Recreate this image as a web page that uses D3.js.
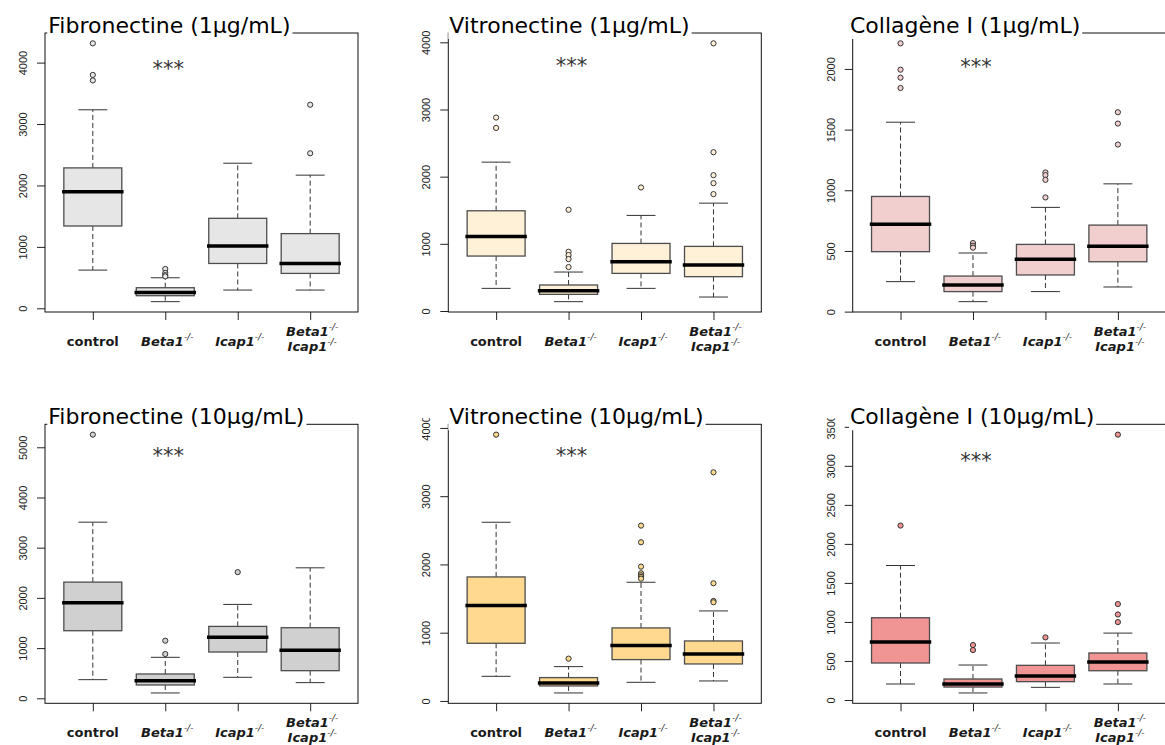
<!DOCTYPE html>
<html>
<head>
<meta charset="utf-8">
<script src="https://cdn.jsdelivr.net/npm/d3@7"></script>
<style>
body{margin:0;background:#fff;}
</style>
</head>
<body>
<script>
// groups on the x axis
var groups = ["control","Beta1","Icap1","Beta1Icap1"];
var labelLines = [["control"],["Beta1"],["Icap1"],["Beta1","Icap1"]];

var titles = ["Fibronectine (1µg/mL)","Vitronectine (1µg/mL)","Collagène I (1µg/mL)",
              "Fibronectine (10µg/mL)","Vitronectine (10µg/mL)","Collagène I (10µg/mL)"];

// box stats per group: [lower whisker, q1, median, q3, upper whisker]
var fibro1Stats = [[622,1340,1897,2286,3232],[108,205,259,335,497],[297,730,1016,1465,2362],[297,568,730,1216,2168]];
var fibro1Out = [[4314,3800,3710],[640,575,540,520],[],[3314,2524]];

var vitro1Stats = [[337,818,1110,1492,2216],[139,248,302,387,580],[337,560,734,1006,1423],[208,511,684,962,1606]];
var vitro1Out = [[2880,2726],[1507,882,833,773,654],[1839],[3985,2364,2022,1903,1740]];

var coll1Stats = [[247,494,721,949,1561],[82,165,219,293,483],[165,302,431,554,859],[203,411,538,713,1053]];
var coll1Out = [[2211,1994,1928,1843],[565,543,527],[1147,1125,1086,941],[1643,1550,1377]];

var fibro10Stats = [[371,1346,1903,2314,3508],[106,265,351,484,816],[418,922,1214,1432,1870],[312,550,955,1406,2599]];
var fibro10Out = [[5252],[1147,882],[2513],[]];

var vitro10Stats = [[361,845,1397,1817,2618],[117,220,264,342,503],[273,606,811,1070,1739],[293,542,689,879,1319]];
var vitro10Out = [[3902],[620],[2569,2325,1968,1871,1841,1817,1792],[3350,1724,1465,1446]];

var coll10Stats = [[205,474,742,1054,1723],[90,166,205,269,448],[162,235,307,444,730],[205,375,486,602,857]];
var coll10Out = [[2235],[704,640],[802],[3400,1229,1096,998]];

// y tick labels
var ticks1000to4000 = [0,1000,2000,3000,4000];
var ticksColl1 = [0,500,1000,1500,2000];
var ticksFibro10 = [0,1000,2000,3000,4000,5000];
var ticksColl10 = [0,500,1000,1500,2000,2500,3000,3500];

// where the *** sits (value units)
var stars = [3973,3727,2054,4920,3658,3123];

var fills = ["#e6e6e6","#fff0d8","#f2cfcf","#d0d0d0","#fed98f","#f19494"];

var panels = [
  {title:titles[0], stats:fibro1Stats, out:fibro1Out, ticks:ticks1000to4000, star:stars[0], fill:fills[0]},
  {title:titles[1], stats:vitro1Stats, out:vitro1Out, ticks:ticks1000to4000, star:stars[1], fill:fills[1]},
  {title:titles[2], stats:coll1Stats, out:coll1Out, ticks:ticksColl1, star:stars[2], fill:fills[2]},
  {title:titles[3], stats:fibro10Stats, out:fibro10Out, ticks:ticksFibro10, star:stars[3], fill:fills[3]},
  {title:titles[4], stats:vitro10Stats, out:vitro10Out, ticks:ticks1000to4000, star:stars[4], fill:fills[4]},
  {title:titles[5], stats:coll10Stats, out:coll10Out, ticks:ticksColl10, star:stars[5], fill:fills[5]}
];

var colLeft = [45,448.3,852.7];
var rowTop = [33,424.3];
var titleDx = [3.3,1,-2.7];
var plotW = 313, plotH = 279;

var svg = d3.select("body").append("svg")
            .attr("width",1165)
            .attr("height",745);
var defs = svg.append("defs");

panels.forEach(function(p,i){
  var col = i%3, row = Math.floor(i/3);
  var left = colLeft[col], top = rowTop[row];

  // R style range: data extent + 4%
  var all = [];
  p.stats.forEach(function(s){all = all.concat(s);});
  p.out.forEach(function(o){all = all.concat(o);});
  var lo = d3.min(all), hi = d3.max(all), pad = (hi-lo)*0.04;

  var y = d3.scaleLinear().domain([lo-pad,hi+pad]).range([plotH,0]);
  var x = d3.scalePoint().domain(groups).range([0,plotW]).padding(0.66);
  var bw = x.step()*0.8;

  var g = svg.append("g").attr("transform","translate("+left+","+top+")");

  defs.append("clipPath").attr("id","clip"+i)
      .append("rect")
      .attr("x",-left).attr("y",-6)
      .attr("width",left+10).attr("height",plotH+30);

  //y axis
  var ya = g.append("g")
            .attr("clip-path","url(#clip"+i+")")
            .call(d3.axisLeft(y).tickValues(p.ticks).tickSize(8).tickFormat(d3.format("d")));
  ya.select(".domain").remove();
  ya.selectAll("line").attr("stroke","#222");
  ya.selectAll("text")
    .attr("x",null).attr("dy",null)
    .attr("transform","translate(-22,0) rotate(-90)")
    .attr("text-anchor","middle")
    .attr("dominant-baseline","central")
    .attr("fill","#222")
    .style("font-family","'Liberation Sans', Arial, sans-serif")
    .style("font-size","11px");

  //x axis ticks
  var xa = g.append("g")
            .attr("transform","translate(0,"+plotH+")")
            .call(d3.axisBottom(x).tickSize(8).tickFormat(""));
  xa.select(".domain").remove();
  xa.selectAll("line").attr("stroke","#222");

  // x labels with superscript
  labelLines.forEach(function(lines,j){
    var base = lines.length==1 ? plotH+34 : plotH+24;
    lines.forEach(function(name,k){
      var t = g.append("text")
               .attr("x",x(groups[j])+(j>0?2:0))
               .attr("y",base+k*15)
               .attr("text-anchor","middle")
               .style("font-family","'DejaVu Sans', sans-serif")
               .style("font-size","13px")
               .attr("fill","#1a1a1a");
      t.append("tspan")
       .style("font-weight","bold")
       .style("font-style",name=="control"?"normal":"italic")
       .text(name);
      if(name!="control"){
        t.append("tspan")
         .attr("dy",-6)
         .style("font-size","9px")
         .style("font-style","italic")
         .text("-/-");
      }
    });
  });

  // boxes
  var bx = g.selectAll(".bx")
            .data(p.stats)
            .enter()
            .append("g")
            .attr("class","bx")
            .attr("transform",function(d,j){return "translate("+x(groups[j])+",0)";});

  bx.append("line")
    .attr("y1",function(d){return y(d[3]);})
    .attr("y2",function(d){return y(d[4]);})
    .attr("stroke","#333").attr("stroke-dasharray","5,3");
  bx.append("line")
    .attr("y1",function(d){return y(d[1]);})
    .attr("y2",function(d){return y(d[0]);})
    .attr("stroke","#333").attr("stroke-dasharray","5,3");
  bx.append("line")
    .attr("x1",-bw/4).attr("x2",bw/4)
    .attr("y1",function(d){return y(d[4]);})
    .attr("y2",function(d){return y(d[4]);})
    .attr("stroke","#333");
  bx.append("line")
    .attr("x1",-bw/4).attr("x2",bw/4)
    .attr("y1",function(d){return y(d[0]);})
    .attr("y2",function(d){return y(d[0]);})
    .attr("stroke","#333");
  bx.append("rect")
    .attr("x",-bw/2)
    .attr("width",bw)
    .attr("y",function(d){return y(d[3]);})
    .attr("height",function(d){return y(d[1])-y(d[3]);})
    .attr("fill",p.fill)
    .attr("stroke","#4d4d4d")
    .attr("stroke-width",1.3);
  bx.append("line")
    .attr("x1",-bw/2).attr("x2",bw/2)
    .attr("y1",function(d){return y(d[2]);})
    .attr("y2",function(d){return y(d[2]);})
    .attr("stroke","#000")
    .attr("stroke-width",3.5)
    .attr("stroke-linecap","square");

  //outliers
  bx.selectAll("circle")
    .data(function(d,j){return p.out[j];})
    .enter()
    .append("circle")
    .attr("cx",0)
    .attr("cy",function(d){return y(d);})
    .attr("r",2.6)
    .attr("fill",p.fill)
    .attr("stroke","#333");

  // frame
  g.append("rect")
   .attr("width",plotW).attr("height",plotH)
   .attr("fill","none")
   .attr("stroke","#111");

  // significance
  g.append("text")
   .attr("x",x(groups[1])+3)
   .attr("y",y(p.star)+12)
   .attr("text-anchor","middle")
   .style("font-family","'DejaVu Sans', sans-serif")
   .style("font-size","21px")
   .attr("fill","#333")
   .text("***");

  // title over the frame, white behind it
  var bg = g.append("rect").attr("fill","#fff");
  var tt = g.append("text")
            .attr("x",titleDx[col])
            .attr("y",0)
            .style("font-family","'DejaVu Sans', sans-serif")
            .style("font-size","22px")
            .attr("fill","#000")
            .text(p.title);
  var tw = tt.node().getComputedTextLength();
  bg.attr("x",titleDx[col]-1).attr("y",-24)
    .attr("width",tw+3).attr("height",30);
});
</script>
</body>
</html>
